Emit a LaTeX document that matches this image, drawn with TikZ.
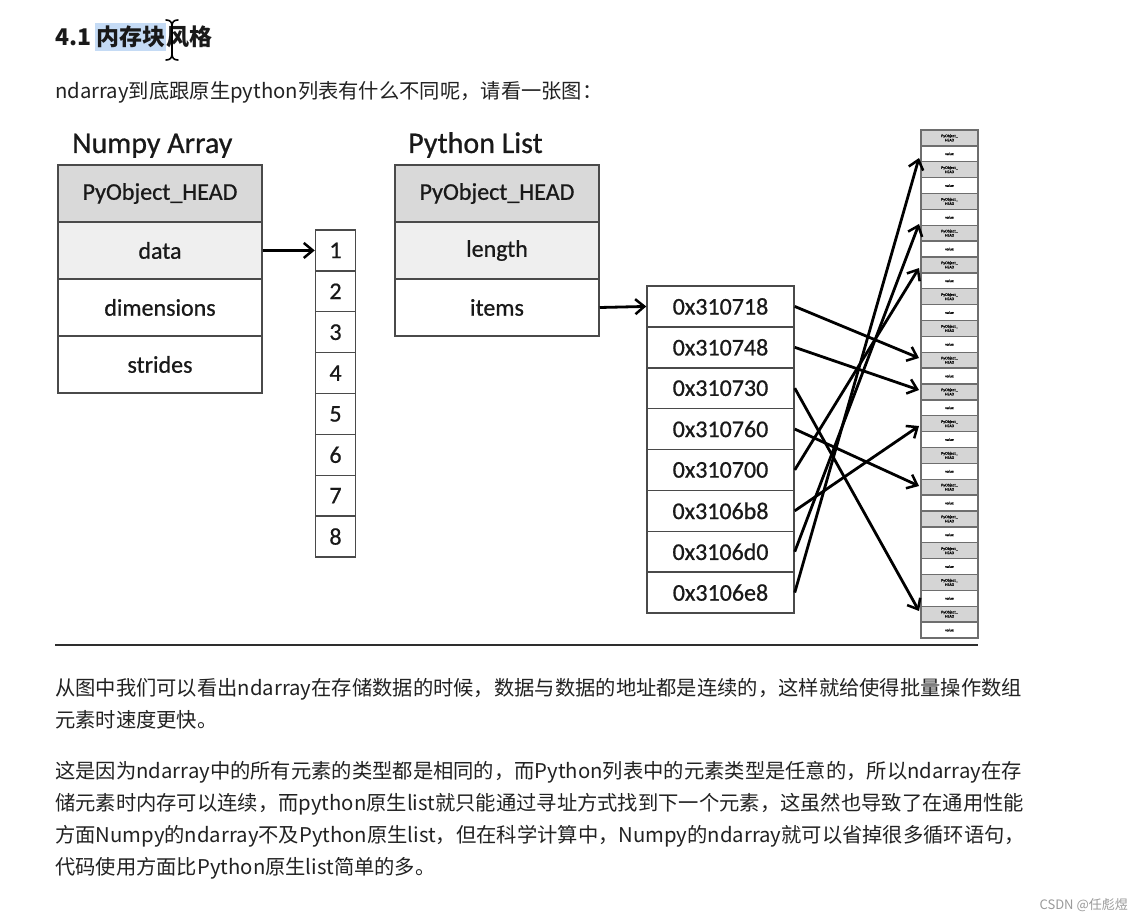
\documentclass[tikz,border=0pt]{standalone}
\usepackage{fontspec}
\setmainfont{Noto Sans CJK SC}
\newfontfamily\diagfont[FakeBold=0.7]{Carlito}
\usetikzlibrary{arrows.meta}
\definecolor{boxline}{HTML}{4A4A4A}
\definecolor{headfill}{HTML}{D9D9D9}
\definecolor{softfill}{HTML}{EFEFEF}
\definecolor{cellline}{HTML}{6E6E6E}
\definecolor{cellgray}{HTML}{D5D5D5}
\definecolor{bodyink}{HTML}{222222}
\definecolor{hlblue}{HTML}{C5DBF5}
\definecolor{ruleink}{HTML}{2E2E2E}
\definecolor{markgray}{HTML}{9A9A9A}
\begin{document}
\begin{tikzpicture}[x=1pt,y=-1pt,
  field/.style={draw=boxline,line width=1.5pt,minimum width=204pt,minimum height=57pt,inner sep=0pt,font=\diagfont\fontsize{24}{28}\selectfont,text=black!90},
  headfield/.style={field,fill=headfill},
  softfield/.style={field,fill=softfill},
  numcell/.style={draw=boxline,line width=1.5pt,minimum width=40pt,minimum height=40.875pt,inner sep=0pt,font=\diagfont\fontsize{24}{28}\selectfont,text=black!90},
  addrcell/.style={numcell,minimum width=147pt},
  objcell/.style={draw=cellline,line width=1.3pt,minimum width=57pt,minimum height=15.875pt,inner sep=0pt,fill=cellgray,align=center,font=\diagfont\fontsize{4}{4.3}\selectfont},
  valcell/.style={objcell,fill=white},
  conn/.style={line width=2.8pt,-{Straight Barb[length=9pt,width=15pt,line width=2.5pt]}},
  heading/.style={anchor=base west,inner sep=0pt,font=\diagfont\fontsize{30}{34}\selectfont,text=black!90},
  bodyline/.style={anchor=west,inner sep=0pt,text=bodyink,font=\fontsize{20.3}{24}\selectfont},
  titlepart/.style={anchor=west,inner sep=0pt,text=black!90,font=\bfseries\fontsize{23}{27}\selectfont}]
\useasboundingbox (0,0) rectangle (1136,920);
\fill[white] (0,0) rectangle (1136,920);

% ---- title ----
\node[titlepart] (tnum) at (55,37) {4.1};
\node[titlepart,fill=hlblue,inner ysep=3pt,inner xsep=1pt] (thl) at (95,37) {内存块};
\node[titlepart] (trest) at (thl.east) {风格};
\draw[line width=1.6pt,line cap=round] (166,20) .. controls (170,20) and (172,22) .. (172,26) -- (172,54) .. controls (172,58) and (170,60) .. (166,60);
\draw[line width=1.6pt,line cap=round] (178,20) .. controls (174,20) and (172,22) .. (172,26);
\draw[line width=1.6pt,line cap=round] (178,60) .. controls (174,60) and (172,58) .. (172,54);

\node[bodyline] (sub) at (55,92) {ndarray到底跟原生python列表有什么不同呢，请看一张图：};

% ---- Numpy array ----
\node[heading] (nptitle) at (72,153) {Numpy Array};
\node[headfield] (nphead) at (160,193.5) {PyObject\_HEAD};
\node[softfield] (npdata) at (160,250.5) {data};
\node[field] (npdim) at (160,307.5) {dimensions};
\node[field] (npstr) at (160,364.5) {strides};

\foreach \k in {1,...,8}{
  \node[numcell] (n\k) at (335.5,{230+40.875*(\k-0.5)}) {\k};
}
\draw[conn] (npdata.east) -- (n1.west);

% ---- Python list ----
\node[heading] (pltitle) at (408,153) {Python List};
\node[headfield] (plhead) at (497,193.5) {PyObject\_HEAD};
\node[softfield] (pllen) at (497,250.5) {length};
\node[field] (plitems) at (497,307.5) {items};

\foreach \k/\t in {1/0x310718,2/0x310748,3/0x310730,4/0x310760,5/0x310700,6/0x3106b8,7/0x3106d0,8/0x3106e8}{
  \node[addrcell] (a\k) at (720.5,{286+40.875*(\k-0.5)}) {\t};
}
\draw[conn] (plitems.east) -- (a1.west);

% ---- memory column ----
\foreach \i in {0,...,31}{
  \ifodd\i
    \node[valcell] (r\i) at (949.5,{130+15.875*(\i+0.5)}) {value};
  \else
    \node[objcell] (r\i) at (949.5,{130+15.875*(\i+0.5)}) {PyObject\_\\HEAD};
  \fi
}

\coordinate (ta) at (919,358);
\coordinate (tb) at (919,390);
\coordinate (tc) at (919,611);
\coordinate (td) at (919,486);
\coordinate (te) at (919,268);
\coordinate (tf) at (919,426);
\coordinate (tg) at (919,224);
\coordinate (th) at (919,158);
\draw[conn] (a1.east) -- (ta);
\draw[conn] (a2.east) -- (tb);
\draw[conn] (a3.east) -- (tc);
\draw[conn] (a4.east) -- (td);
\draw[conn] (a5.east) -- (te);
\draw[conn] (a6.east) -- (tf);
\draw[conn] (a7.east) -- (tg);
\draw[conn] (a8.east) -- (th);

% ---- rule ----
\draw[line width=2pt,ruleink] (55,645) -- (978,645);

% ---- body text ----
\node[bodyline] (p1a) at (55,689) {从图中我们可以看出ndarray在存储数据的时候，数据与数据的地址都是连续的，这样就给使得批量操作数组};
\node[bodyline] (p1b) at (55,720) {元素时速度更快。};
\node[bodyline] (p2a) at (55,772) {这是因为ndarray中的所有元素的类型都是相同的，而Python列表中的元素类型是任意的，所以ndarray在存};
\node[bodyline] (p2b) at (55,804) {储元素时内存可以连续，而python原生list就只能通过寻址方式找到下一个元素，这虽然也导致了在通用性能};
\node[bodyline] (p2c) at (55,836) {方面Numpy的ndarray不及Python原生list，但在科学计算中，Numpy的ndarray就可以省掉很多循环语句，};
\node[bodyline] (p2d) at (55,868) {代码使用方面比Python原生list简单的多。};

\node[anchor=east,inner sep=0pt,text=markgray,font=\fontsize{13}{15}\selectfont] (mark) at (1128,905) {CSDN @任彪煜};
\end{tikzpicture}
\end{document}
